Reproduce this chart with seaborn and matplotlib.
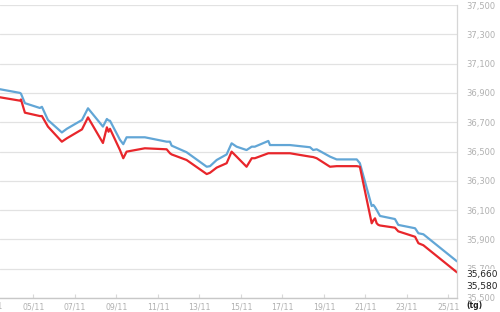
import matplotlib
matplotlib.use("Agg")
import matplotlib.pyplot as plt
import matplotlib.transforms as mtransforms
import seaborn as sns
import pandas as pd

# ---- data (day of November) ----
days = [3.39, 4.35, 4.40, 4.59, 5.31, 5.41, 5.70, 6.37, 6.61, 7.34, 7.63, 8.35,
        8.54, 8.62, 8.69, 9.17, 9.33, 9.49, 10.37, 11.42, 11.58, 11.66, 12.38,
        13.35, 13.51, 13.83, 14.31, 14.55, 14.79, 15.27, 15.52, 15.67, 16.32,
        16.40, 17.36, 18.33, 18.48, 18.65, 19.29, 19.61, 20.58, 20.73, 21.30,
        21.38, 21.46, 21.54, 21.62, 21.70, 22.42, 22.58, 23.39, 23.55, 23.79, 25.41]
buy = [36925, 36900, 36895, 36830, 36797, 36805, 36715, 36630, 36655, 36715, 36795, 36670,
       36722, 36712, 36710, 36580, 36550, 36597, 36597, 36567, 36567, 36540, 36495,
       36396, 36400, 36442, 36480, 36556, 36533, 36510, 36533, 36533, 36572,
       36544, 36544, 36529, 36510, 36515, 36465, 36446, 36446, 36420, 36128,
       36135, 36120, 36101, 36080, 36060, 36039, 35999, 35976, 35942, 35935, 35750]
sell = [36870, 36847, 36855, 36765, 36742, 36742, 36670, 36567, 36590, 36651, 36733, 36558,
        36665, 36635, 36655, 36510, 36454, 36499, 36522, 36515, 36488, 36480, 36442,
        36346, 36355, 36390, 36420, 36499, 36465, 36396, 36454, 36454, 36488,
        36488, 36488, 36465, 36462, 36454, 36396, 36400, 36400, 36396, 36010,
        36030, 36044, 36010, 35999, 35995, 35980, 35955, 35918, 35874, 35860, 35675]
tick_days = list(range(3, 26, 2))
tick_labels = [f"{d:02d}/11" for d in tick_days]
ytick_vals = list(range(35500, 37501, 200))
ytick_labels = [f"{v:,}" for v in ytick_vals]
last_labels = ["35,660", "35,580"]
last_label_vals = [35660, 35580]
unit_label = "(tg)"

BLUE = "#62a6d6"
RED = "#e8262b"
GRAY_TXT = "#b0b0b0"

sns.set_theme(style="white")
plt.rcParams["font.family"] = ["DejaVu Sans"]

fig = plt.figure(figsize=(5, 3.12), dpi=100)
ax = fig.add_axes([0, 14 / 312, 457 / 500, 293 / 312])

df = pd.DataFrame({"day": days, "buy": buy, "sell": sell}).melt(
    "day", var_name="series", value_name="price")
sns.lineplot(data=df, x="day", y="price", hue="series",
             palette={"buy": BLUE, "sell": RED}, linewidth=1.6,
             legend=False, ax=ax, estimator=None, sort=False)

ax.set_xticks(tick_days[1:])
ax.set_xticklabels(tick_labels[1:])
ax.set_yticks(ytick_vals)
ax.set_yticklabels(ytick_labels)
ax.set_xlim(3.39, 25.41)
ax.set_ylim(35500, 37500)
ax.set_xlabel("")
ax.set_ylabel("")
ax.yaxis.tick_right()
ax.tick_params(axis="y", length=0, pad=6.5, labelsize=6, labelcolor=GRAY_TXT)
ax.tick_params(axis="x", direction="in", length=3, color="#d8d8d8", width=0.8,
               pad=3, labelsize=5.6, labelcolor=GRAY_TXT, bottom=True)

ax.grid(axis="y", color="#e2e2e2", linewidth=0.9)
ax.grid(axis="x", visible=False)
for side in ("left", "top"):
    ax.spines[side].set_visible(False)
ax.spines["right"].set_color("#d6d6d6")
ax.spines["right"].set_linewidth(0.9)
ax.spines["bottom"].set_color("#c8c8c8")
ax.spines["bottom"].set_linewidth(1.0)

# cut-off first tick label at the left edge
xtrans = mtransforms.blended_transform_factory(ax.transData, ax.transAxes)
ax.text(tick_days[0], -0.012, tick_labels[0], transform=xtrans,
        ha="center", va="top", fontsize=5.6, color=GRAY_TXT, clip_on=False)

trans = mtransforms.blended_transform_factory(ax.transAxes, ax.transData)
for lab, val in zip(last_labels, last_label_vals):
    ax.text(1.0195, val, lab, transform=trans, ha="left", va="center",
            fontsize=6.5, color="#222222", zorder=5,
            bbox=dict(facecolor="white", edgecolor="none", pad=0.6))

fig.text(466 / 500, (312 - 306) / 312, unit_label, ha="left", va="center",
         fontsize=5.6, fontweight="bold", color="#222222")

fig.savefig("out.png", dpi=100, facecolor="white")
